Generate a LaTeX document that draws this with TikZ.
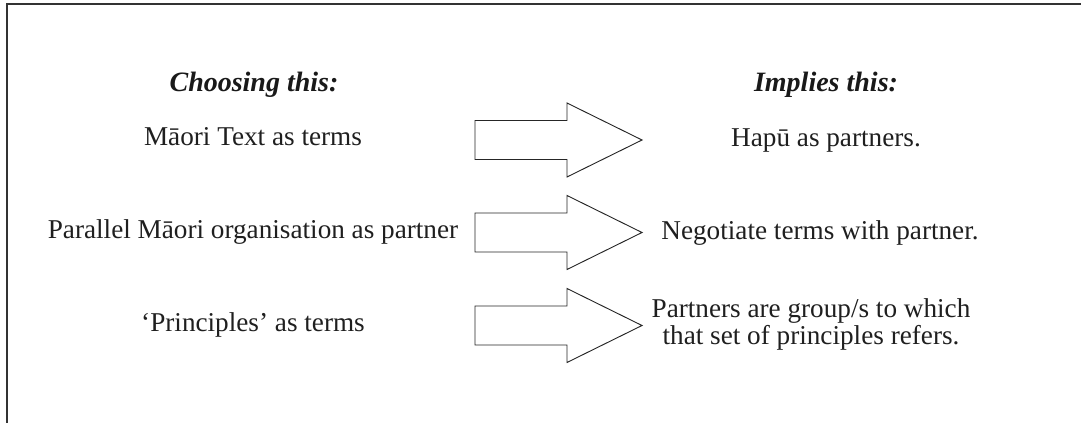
\documentclass[tikz,border=0pt]{standalone}
\usepackage{fontspec}
\setmainfont{Liberation Serif}
\usetikzlibrary{positioning}
\tikzset{
    bigarrow/.pic={
        \draw[line width=0.7pt, black!85, line join=miter]
            (0,-19.5) -- (92,-19.5) -- (92,-37) -- (167,0) -- (92,37) -- (92,19.5) -- (0,19.5) -- cycle;
        \coordinate (-tip) at (167,0);
    },
    choice/.style={font=\fontsize{20.4}{20.3}\selectfont, text=black!88, align=center, inner sep=0pt},
    heading/.style={font=\fontsize{21}{24}\selectfont\bfseries\itshape, text=black!90, anchor=base, inner sep=0pt},
}

\begin{document}
\begin{tikzpicture}[x=0.75pt, y=-0.75pt]
    \useasboundingbox (0,0) rectangle (1081,423);
    \draw[line width=1.1pt, black!80] (1081,4) -- (7,4) -- (7,423);

    \node[heading] (choosing) at (254,92) {Choosing this:};
    \node[heading] (implies) at (826,92) {Implies this:};

    \node[choice, anchor=base] (textterms) at (253,146) {Māori Text as terms};
    \node[choice, anchor=base] (parallel) at (253,239) {Parallel Māori organisation as partner};
    \node[choice, anchor=base] (principles) at (253,332) {‘Principles’ as terms};

    \pic (arA) at (475,140) {bigarrow};
    \pic (arB) at (475,232.5) {bigarrow};
    \pic (arC) at (475,325.5) {bigarrow};

    \node[choice, anchor=base] (hapu) at (826,147) {Hapū as partners.};
    \node[choice, anchor=base] (negotiate) at (820,240) {Negotiate terms with partner.};
    \node[choice] (groups) at (811,324) {Partners are group/s to which\\ that set of principles refers.};
\end{tikzpicture}
\end{document}
